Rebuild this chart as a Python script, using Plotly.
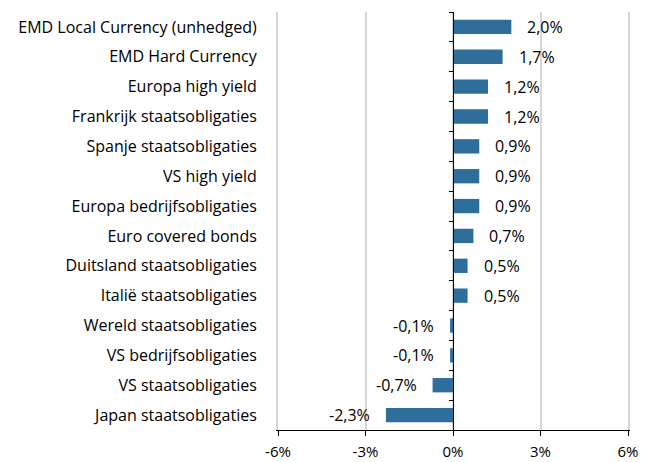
import plotly.graph_objects as go

# Rendement per beleggingscategorie (%)
categories = [
    "EMD Local Currency (unhedged)",
    "EMD Hard Currency",
    "Europa high yield",
    "Frankrijk staatsobligaties",
    "Spanje staatsobligaties",
    "VS high yield",
    "Europa bedrijfsobligaties",
    "Euro covered bonds",
    "Duitsland staatsobligaties",
    "Italië staatsobligaties",
    "Wereld staatsobligaties",
    "VS bedrijfsobligaties",
    "VS staatsobligaties",
    "Japan staatsobligaties",
]
values = [2.0, 1.7, 1.2, 1.2, 0.9, 0.9, 0.9, 0.7, 0.5, 0.5, -0.1, -0.1, -0.7, -2.3]
x_ticks = [-6, -3, 0, 3, 6]
x_tick_labels = ["-6%", "-3%", "0%", "3%", "6%"]

FONT = "Open Sans"
FONT_SIZE = 16
BAR_COLOR = "#2d6e9b"
GRID_COLOR = "#d6d6d6"
n = len(categories)


def pct(v):
    return f"{v:.1f}".replace(".", ",") + "%"


fig = go.Figure()
fig.add_trace(go.Bar(
    x=values, y=categories, orientation="h",
    marker=dict(color=BAR_COLOR, line=dict(width=0)),
    width=0.48, hoverinfo="x+y",
))
# invisible helper trace so the zero-line axis (y2) is drawn
fig.add_trace(go.Scatter(
    x=[0] * n, y=categories, yaxis="y2", mode="markers",
    marker=dict(opacity=0), hoverinfo="skip", showlegend=False,
))

for cat, v in zip(categories, values):
    fig.add_annotation(
        x=v, y=cat, text=pct(v), showarrow=False,
        xanchor="left" if v >= 0 else "right",
        xshift=14 if v >= 0 else -14,
        font=dict(family=FONT, size=FONT_SIZE, color="#000000"),
    )

fig.update_layout(
    width=653, height=462,
    margin=dict(l=278, r=25, t=12, b=32),
    paper_bgcolor="white", plot_bgcolor="white",
    showlegend=False,
    font=dict(family=FONT, size=FONT_SIZE, color="#000000"),
    xaxis=dict(
        range=[-6, 6], tickvals=x_ticks, ticktext=x_tick_labels,
        tickfont=dict(size=15),
        showgrid=True, gridcolor=GRID_COLOR, gridwidth=2,
        zeroline=False,
        showline=True, linecolor="#000000", linewidth=1,
        ticks="outside", ticklen=5, tickcolor="#000000",
        ticklabelstandoff=3,
        automargin=False,
        fixedrange=True,
    ),
    yaxis=dict(
        type="category", categoryorder="array", categoryarray=categories,
        range=[n - 0.5, -0.5],
        showgrid=False, zeroline=False,
        # light frame lines at the -6% and 6% edges
        showline=True, linecolor=GRID_COLOR, linewidth=2, mirror=True,
        ticks="", ticklabelstandoff=16,
        automargin=False,
        fixedrange=True,
    ),
    yaxis2=dict(
        type="category", categoryorder="array", categoryarray=categories,
        matches="y", overlaying="y", anchor="free", position=0.5, side="left",
        showline=True, linecolor="#000000", linewidth=1,
        ticks="outside", tickson="boundaries", ticklen=4, tickcolor="#000000",
        showticklabels=False, showgrid=False, zeroline=False,
        fixedrange=True,
    ),
)

fig.write_html("out.html")
